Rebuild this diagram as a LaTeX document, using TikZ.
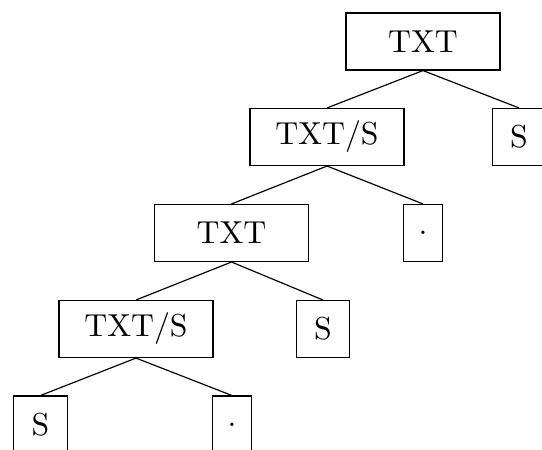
\documentclass[tikz,border=0pt]{standalone}
\usepackage{fontspec}
\begin{document}
\begin{tikzpicture}[
        treebox/.style={draw, rectangle, inner sep=0pt, minimum height=0.68cm,
            font=\fontsize{10.8}{12}\selectfont\addfontfeatures{FakeStretch=0.72, LetterSpace=12}},
        widebox/.style={treebox, minimum width=1.84cm},
        sbox/.style={treebox, minimum width=0.64cm},
        dotbox/.style={treebox, minimum width=0.46cm}]

        \useasboundingbox (0,0) rectangle (6.477,-5.366);
        \clip (0,0) rectangle (6.477,-5.366);

        % Define nodes on the top levels
        \node[widebox] (T0) at (5.055,-0.496) {TXT};
        \node[widebox] (T1) at (3.908,-1.637) {TXT/S};
        \node[sbox] (S1) at (6.202,-1.637) {S};

        % Define nodes on the middle levels
        \node[widebox] (T2) at (2.766,-2.784) {TXT};
        \node[dotbox] (D2) at (5.055,-2.784) {.};
        \node[widebox] (T3) at (1.625,-3.932) {TXT/S};
        \node[sbox] (S3) at (3.860,-3.932) {S};

        % Define nodes on the bottom level
        \node[sbox] (S4) at (0.484,-5.073) {S};
        \node[dotbox] (D4) at (2.772,-5.073) {.};

        % Draw lines from each box down to its children
        \draw (T0.south) -- (T1.north);
        \draw (T0.south) -- (S1.north);
        \draw (T1.south) -- (T2.north);
        \draw (T1.south) -- (D2.north);
        \draw (T2.south) -- (T3.north);
        \draw (T2.south) -- (S3.north);
        \draw (T3.south) -- (S4.north);
        \draw (T3.south) -- (D4.north);

\end{tikzpicture}
\end{document}
